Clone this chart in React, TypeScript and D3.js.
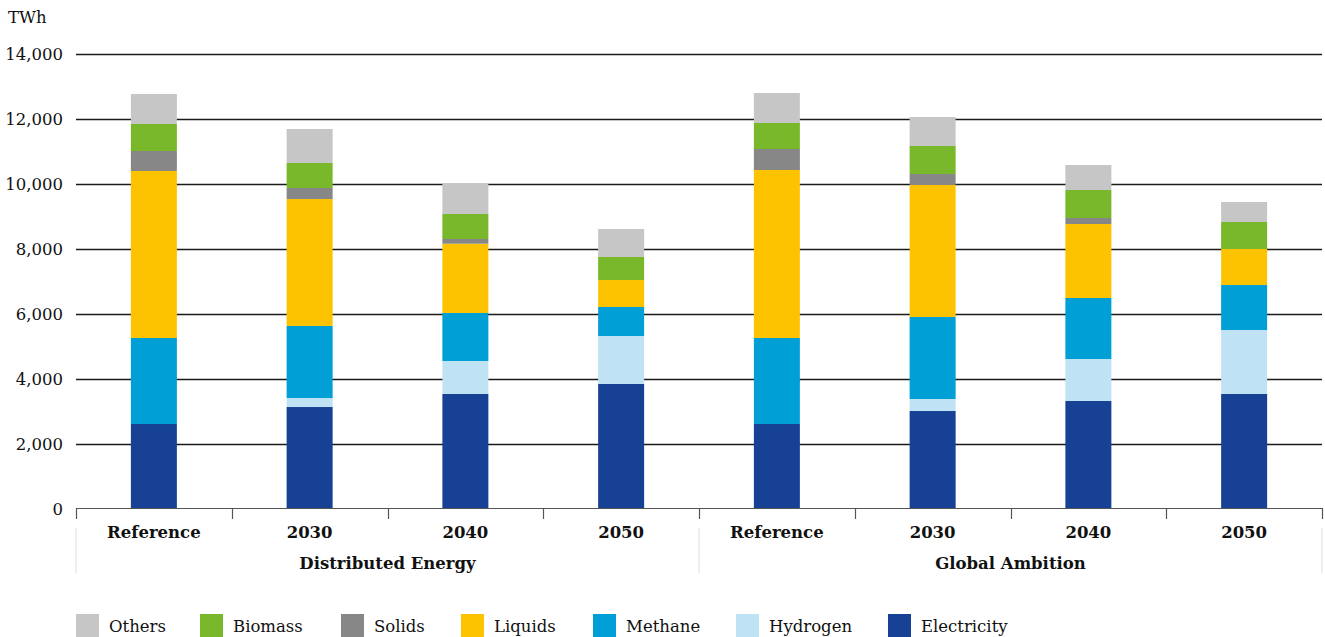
import { useEffect, useRef } from "react"
import * as d3 from "d3"

const categories = ["Reference", "2030", "2040", "2050", "Reference", "2030", "2040", "2050"]
const scenarios = ["Distributed Energy", "Global Ambition"]

// TWh per carrier, one value per bar
const electricity = [2615, 3138, 3538, 3846, 2615, 3015, 3323, 3538]
const hydrogen = [0, 277, 1016, 1477, 0, 370, 1292, 1970]
const methane = [2647, 2216, 1477, 892, 2647, 2523, 1877, 1384]
const liquids = [5138, 3907, 2132, 831, 5169, 4061, 2277, 1108]
const solids = [615, 339, 145, 0, 646, 339, 185, 0]
const biomass = [831, 769, 769, 708, 800, 861, 861, 831]
const others = [923, 1046, 944, 861, 923, 893, 770, 615]

const yTicks = [0, 2000, 4000, 6000, 8000, 10000, 12000, 14000]

const seriesNames = ["Electricity", "Hydrogen", "Methane", "Liquids", "Solids", "Biomass", "Others"]
const seriesValues = [electricity, hydrogen, methane, liquids, solids, biomass, others]
const colors: Record<string, string> = {
  Electricity: "#164194",
  Hydrogen: "#bfe3f5",
  Methane: "#009fd6",
  Liquids: "#fdc300",
  Solids: "#878787",
  Biomass: "#78b82a",
  Others: "#c6c6c6",
}
const legendOrder = ["Others", "Biomass", "Solids", "Liquids", "Methane", "Hydrogen", "Electricity"]
const legendX = [76, 200, 341, 461, 593, 736, 888]

const FONT = "'DejaVu Serif', serif"
const FS = "16.5px"

export default function App() {
  const svgRef = useRef<SVGSVGElement>(null)

  useEffect(() => {
    const width = 1325
    const height = 637
    const left = 76
    const right = 1322
    const svg = d3.select(svgRef.current).attr("width", width).attr("height", height)
    svg.selectAll("*").remove()

    const rows = categories.map((c, i) => {
      const r: any = { idx: i }
      seriesNames.forEach((s, k) => (r[s] = seriesValues[k][i]))
      return r
    })
    const stacked = d3.stack().keys(seriesNames)(rows)

    const x = d3
      .scaleBand<number>()
      .domain(d3.range(categories.length))
      .range([left, right])
    const y = d3.scaleLinear().domain([0, 14000]).range([509, 54])
    const barW = 46

    // gridlines
    svg
      .append("g")
      .selectAll("line")
      .data(yTicks.filter((t) => t > 0))
      .enter()
      .append("line")
      .attr("x1", left)
      .attr("x2", right)
      .attr("y1", (d) => Math.round(y(d)) + 0.5)
      .attr("y2", (d) => Math.round(y(d)) + 0.5)
      .attr("stroke", "#1a1a1a")
      .attr("stroke-width", 1.3)

    // y labels
    svg
      .append("g")
      .selectAll("text")
      .data(yTicks)
      .enter()
      .append("text")
      .attr("x", 63)
      .attr("y", (d) => y(d) + 6)
      .attr("text-anchor", "end")
      .style("font-family", FONT)
      .style("font-size", FS)
      .attr("fill", "#111")
      .text((d) => d3.format(",")(d))

    svg
      .append("text")
      .attr("x", 8)
      .attr("y", 23)
      .style("font-family", FONT)
      .style("font-size", FS)
      .attr("fill", "#111")
      .text("TWh")

    // bars
    svg
      .append("g")
      .selectAll("g")
      .data(stacked)
      .enter()
      .append("g")
      .attr("fill", (d) => colors[d.key])
      .selectAll("rect")
      .data((d) => d)
      .enter()
      .append("rect")
      .attr("x", (d, i) => (x(i) as number) + x.bandwidth() / 2 - barW / 2)
      .attr("width", barW)
      .attr("y", (d) => y(d[1]))
      .attr("height", (d) => y(d[0]) - y(d[1]))

    // x axis
    const axis = svg.append("g")
    axis
      .append("line")
      .attr("x1", left)
      .attr("x2", right)
      .attr("y1", 508.5)
      .attr("y2", 508.5)
      .attr("stroke", "#555")
      .attr("stroke-width", 1.2)
    axis
      .selectAll("line.tick")
      .data(d3.range(categories.length + 1))
      .enter()
      .append("line")
      .attr("class", "tick")
      .attr("x1", (d) => Math.round(left + d * x.step()) + 0.5)
      .attr("x2", (d) => Math.round(left + d * x.step()) + 0.5)
      .attr("y1", 508)
      .attr("y2", 519)
      .attr("stroke", "#555")
      .attr("stroke-width", 1.2)

    axis
      .selectAll("text.cat")
      .data(categories)
      .enter()
      .append("text")
      .attr("class", "cat")
      .attr("x", (d, i) => (x(i) as number) + x.bandwidth() / 2)
      .attr("y", 538)
      .attr("text-anchor", "middle")
      .style("font-family", FONT)
      .style("font-size", FS)
      .style("font-weight", "bold")
      .attr("fill", "#111")
      .text((d) => d)

    // group separators and scenario labels
    const groupSize = categories.length / scenarios.length
    axis
      .selectAll("line.sep")
      .data(d3.range(scenarios.length + 1))
      .enter()
      .append("line")
      .attr("class", "sep")
      .attr("x1", (d) => left + d * groupSize * x.step())
      .attr("x2", (d) => left + d * groupSize * x.step())
      .attr("y1", 528)
      .attr("y2", 573)
      .attr("stroke", "#ddd")
      .attr("stroke-width", 1)
    axis
      .selectAll("text.scen")
      .data(scenarios)
      .enter()
      .append("text")
      .attr("class", "scen")
      .attr("x", (d, i) => left + (i + 0.5) * groupSize * x.step())
      .attr("y", 569)
      .attr("text-anchor", "middle")
      .style("font-family", FONT)
      .style("font-size", FS)
      .style("font-weight", "bold")
      .attr("fill", "#111")
      .text((d) => d)

    // legend
    const legend = svg
      .append("g")
      .selectAll("g")
      .data(legendOrder)
      .enter()
      .append("g")
      .attr("transform", (d, i) => `translate(${legendX[i]}, 614)`)
    legend
      .append("rect")
      .attr("width", 23)
      .attr("height", 23)
      .attr("fill", (d) => colors[d])
    legend
      .append("text")
      .attr("x", 33)
      .attr("y", 18)
      .style("font-family", FONT)
      .style("font-size", FS)
      .attr("fill", "#111")
      .text((d) => d)
  }, [])

  return (
    <div style={{ position: "absolute", left: 0, top: 0 }}>
      <svg ref={svgRef}></svg>
    </div>
  )
}
